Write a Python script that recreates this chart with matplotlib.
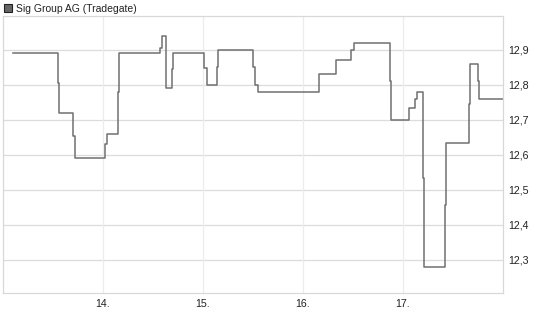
import matplotlib
matplotlib.use("Agg")
import matplotlib.pyplot as plt
from matplotlib.patches import Rectangle

plt.rcParams['font.family'] = ['Liberation Sans', 'DejaVu Sans']

title = "Sig Group AG (Tradegate)"
days = [13.103, 13.547, 13.56, 13.703, 13.717, 14.023, 14.037, 14.153, 14.163,
        14.57, 14.593, 14.627, 14.687, 14.697, 15.013, 15.037, 15.137, 15.147,
        15.503, 15.52, 15.547, 16.163, 16.333, 16.48, 16.513, 16.87, 16.88,
        17.063, 17.12, 17.137, 17.20, 17.213, 17.423, 17.433, 17.657, 17.667,
        17.753, 17.763, 18.0]
prices = [12.89, 12.805, 12.72, 12.655, 12.59, 12.63, 12.66, 12.78, 12.89,
          12.905, 12.94, 12.79, 12.845, 12.89, 12.848, 12.80, 12.85, 12.90,
          12.85, 12.80, 12.78, 12.83, 12.87, 12.90, 12.92, 12.81, 12.70,
          12.733, 12.76, 12.78, 12.533, 12.28, 12.457, 12.633, 12.746, 12.86,
          12.81, 12.76, 12.76]
xticks = [14, 15, 16, 17]
xticklabels = ["14.", "15.", "16.", "17."]
yticks = [12.3, 12.4, 12.5, 12.6, 12.7, 12.8, 12.9]

W, H = 545, 327
fig = plt.figure(figsize=(W / 100, H / 100), dpi=100)
ax = fig.add_axes([3 / W, 1 - 293 / H, 500 / W, 277 / H])

ax.plot(days, prices, drawstyle='steps-post', color='#707070', lw=1.1)
ax.set_xlim(13.0, 18.0)
ax.set_ylim(12.2057, 12.997)

ax.set_xticks(xticks)
ax.set_xticklabels(xticklabels)
ax.set_yticks(yticks)
ax.set_yticklabels([f"{v:.1f}".replace('.', ',') for v in yticks])
ax.yaxis.tick_right()
ax.tick_params(axis='both', length=0, labelsize=7.7, colors='#222222')
ax.tick_params(axis='y', pad=4)
ax.tick_params(axis='x', pad=4)

for v in yticks:
    ax.axhline(v, color='#dcdcdc', lw=0.9, zorder=0)
for v in xticks:
    ax.axvline(v, color='#ececec', lw=0.9, zorder=0)
for s in ax.spines.values():
    s.set_color('#d8d8d8')
    s.set_linewidth(0.9)

fig.patches.append(Rectangle((4 / W, 1 - 12 / H), 8 / W, 8 / H, transform=fig.transFigure,
                             facecolor='#666666', edgecolor='#222222', lw=0.8))
fig.text(16.5 / W, 1 - 9 / H, title, fontsize=7.5, va='center', ha='left', color='#222222')

fig.savefig("out.png", dpi=100)
